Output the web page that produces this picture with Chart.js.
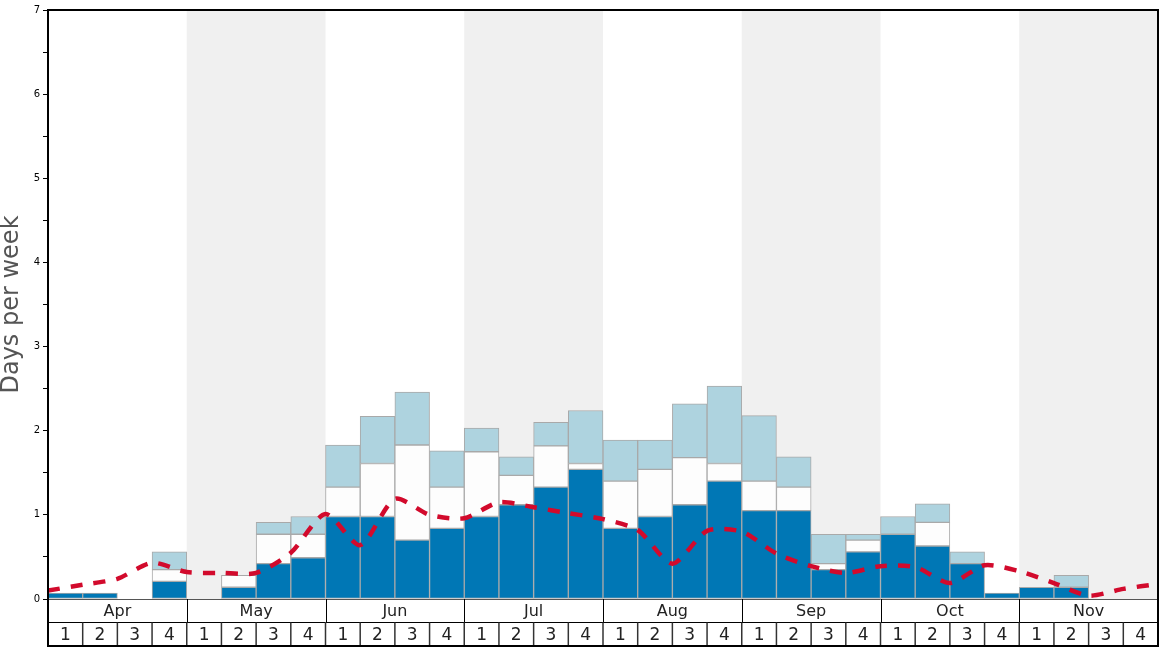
<!DOCTYPE html>
<html>
<head>
<meta charset="utf-8">
<script src="https://cdn.jsdelivr.net/npm/chart.js@4.4.1/dist/chart.umd.min.js"></script>
<style>
    body { margin: 0; background: #fff; }
    canvas { display: block; }
</style>
</head>
<body>
<canvas id="graph" width="1168" height="648"></canvas>
<script>
const months = ['Apr', 'May', 'Jun', 'Jul', 'Aug', 'Sep', 'Oct', 'Nov'];
const weekLabels = ['1', '2', '3', '4'];

// stacked pieces per week, bottom to top
const darkDays = [0.07, 0.07, 0, 0.21, 0, 0.14, 0.42, 0.49,
    0.98, 0.98, 0.70, 0.84, 0.98, 1.12, 1.33, 1.54,
    0.84, 0.98, 1.12, 1.40, 1.05, 1.05, 0.35, 0.56,
    0.77, 0.63, 0.42, 0.07, 0.14, 0.14, 0, 0];
const whiteDays = [0, 0, 0, 0.14, 0, 0.14, 0.35, 0.28,
    0.35, 0.63, 1.13, 0.49, 0.77, 0.35, 0.49, 0.07,
    0.56, 0.56, 0.56, 0.21, 0.35, 0.28, 0.07, 0.14,
    0, 0.28, 0, 0, 0, 0, 0, 0];
const lightDays = [0, 0, 0, 0.21, 0, 0, 0.14, 0.21,
    0.50, 0.56, 0.63, 0.43, 0.28, 0.22, 0.28, 0.63,
    0.49, 0.35, 0.64, 0.92, 0.78, 0.36, 0.35, 0.07,
    0.21, 0.22, 0.14, 0, 0, 0.14, 0, 0];

// dashed average line, one value per week boundary
const trendDays = [0.10, 0.17, 0.24, 0.43, 0.32, 0.31, 0.31, 0.55,
    1.01, 0.64, 1.19, 1.00, 0.96, 1.15, 1.09, 1.02,
    0.95, 0.82, 0.42, 0.81, 0.80, 0.54, 0.39, 0.31,
    0.39, 0.38, 0.19, 0.40, 0.33, 0.19, 0.04, 0.12, 0.18];

let categories = [];
months.forEach(function(m) {
    weekLabels.forEach(function(w) {
        categories.push(m + ' ' + w);
    });
});

let trendPoints = trendDays.map(function(v, i) {
    return {x: i, y: v};
});

Chart.defaults.font.family = 'DejaVu Sans';

const monthBands = {
    id: 'monthBands',
    beforeDatasetsDraw(chart) {
        const ctx = chart.ctx;
        const area = chart.chartArea;
        const xl = chart.scales.xl;
        ctx.save();
        ctx.fillStyle = '#f0f0f0';
        for (let i = 1; i < months.length; i += 2) {
            let x0 = xl.getPixelForValue(i * 4);
            let x1 = xl.getPixelForValue(i * 4 + 4);
            ctx.fillRect(x0, area.top, x1 - x0, area.bottom - area.top);
        }
        ctx.restore();
    }
};

const frameAndRows = {
    id: 'frameAndRows',
    afterDraw(chart) {
        const ctx = chart.ctx;
        const area = chart.chartArea;
        const xl = chart.scales.xl;
        const row1 = area.bottom + 23.5;
        const row2 = area.bottom + 47;
        const bottom = chart.height - 1;

        ctx.save();

        // plot baseline and row lines
        ctx.lineWidth = 1;
        ctx.strokeStyle = '#555';
        ctx.beginPath();
        ctx.moveTo(area.left, area.bottom + 0.5);
        ctx.lineTo(area.right, area.bottom + 0.5);
        ctx.stroke();

        ctx.strokeStyle = '#000';
        ctx.beginPath();
        ctx.moveTo(area.left, row1);
        ctx.lineTo(area.right, row1);
        ctx.stroke();

        // month separators
        for (let i = 1; i < months.length; i++) {
            let x = Math.round(xl.getPixelForValue(i * 4)) + 0.5;
            ctx.beginPath();
            ctx.moveTo(x, area.bottom);
            ctx.lineTo(x, row1);
            ctx.stroke();
        }

        // week separators
        ctx.lineWidth = 1.5;
        ctx.strokeStyle = '#333';
        for (let k = 1; k < categories.length; k++) {
            let x = xl.getPixelForValue(k);
            ctx.beginPath();
            ctx.moveTo(x, row1);
            ctx.lineTo(x, row2);
            ctx.stroke();
        }

        // outer frame
        ctx.lineWidth = 2;
        ctx.strokeStyle = '#000';
        ctx.beginPath();
        ctx.moveTo(area.left, bottom);
        ctx.lineTo(area.left, area.top);
        ctx.lineTo(area.right, area.top);
        ctx.lineTo(area.right, bottom);
        ctx.stroke();
        ctx.beginPath();
        ctx.moveTo(area.left, row2);
        ctx.lineTo(area.right, row2);
        ctx.stroke();

        // labels
        ctx.fillStyle = '#222';
        ctx.textAlign = 'center';
        ctx.textBaseline = 'middle';
        ctx.font = '16px "DejaVu Sans"';
        months.forEach(function(m, i) {
            let cx = xl.getPixelForValue(i * 4 + 2);
            ctx.fillText(m, cx, area.bottom + 12.5);
        });
        ctx.font = '17px "DejaVu Sans"';
        categories.forEach(function(c, k) {
            let cx = xl.getPixelForValue(k + 0.5);
            ctx.fillText(weekLabels[k % 4], cx, row1 + 13);
        });
        ctx.restore();
    }
};

const barStyle = {
    borderColor: '#a9a9a9',
    borderWidth: 1,
    borderSkipped: false,
    barPercentage: 1,
    categoryPercentage: 1,
    grouped: false,
    stack: 'days',
    order: 1
};

new Chart(document.getElementById('graph'), {
    type: 'bar',
    data: {
        labels: categories,
        datasets: [
            {
                type: 'line',
                data: trendPoints,
                xAxisID: 'xl',
                borderColor: '#d20a2c',
                borderWidth: 4.5,
                borderDash: [12, 11],
                tension: 0.25,
                pointRadius: 0,
                fill: false,
                order: 0
            },
            Object.assign({data: darkDays, backgroundColor: '#0077b5'}, barStyle),
            Object.assign({data: whiteDays, backgroundColor: '#fdfdfd'}, barStyle),
            Object.assign({data: lightDays, backgroundColor: '#aed3df'}, barStyle)
        ]
    },
    options: {
        responsive: false,
        animation: false,
        layout: {
            padding: {top: 10, right: 10, bottom: 49, left: 0}
        },
        plugins: {
            legend: {display: false},
            tooltip: {enabled: false}
        },
        scales: {
            x: {
                display: false,
                stacked: true,
                offset: true
            },
            xl: {
                type: 'linear',
                display: false,
                offset: false,
                min: 0,
                max: 32
            },
            y: {
                stacked: true,
                min: 0,
                max: 7,
                afterFit: function(scale) {
                    scale.width = 48;
                },
                ticks: {
                    stepSize: 0.5,
                    color: '#000',
                    font: {size: 10},
                    callback: function(v) {
                        return Number.isInteger(v) ? v : '';
                    }
                },
                grid: {
                    drawOnChartArea: false,
                    tickLength: 5,
                    color: '#000'
                },
                border: {
                    color: '#000',
                    width: 2
                },
                title: {
                    display: true,
                    text: 'Days per week',
                    color: '#555',
                    font: {size: 24, lineHeight: 1},
                    padding: {top: 0, bottom: 0}
                }
            }
        }
    },
    plugins: [monthBands, frameAndRows]
});
</script>
</body>
</html>
